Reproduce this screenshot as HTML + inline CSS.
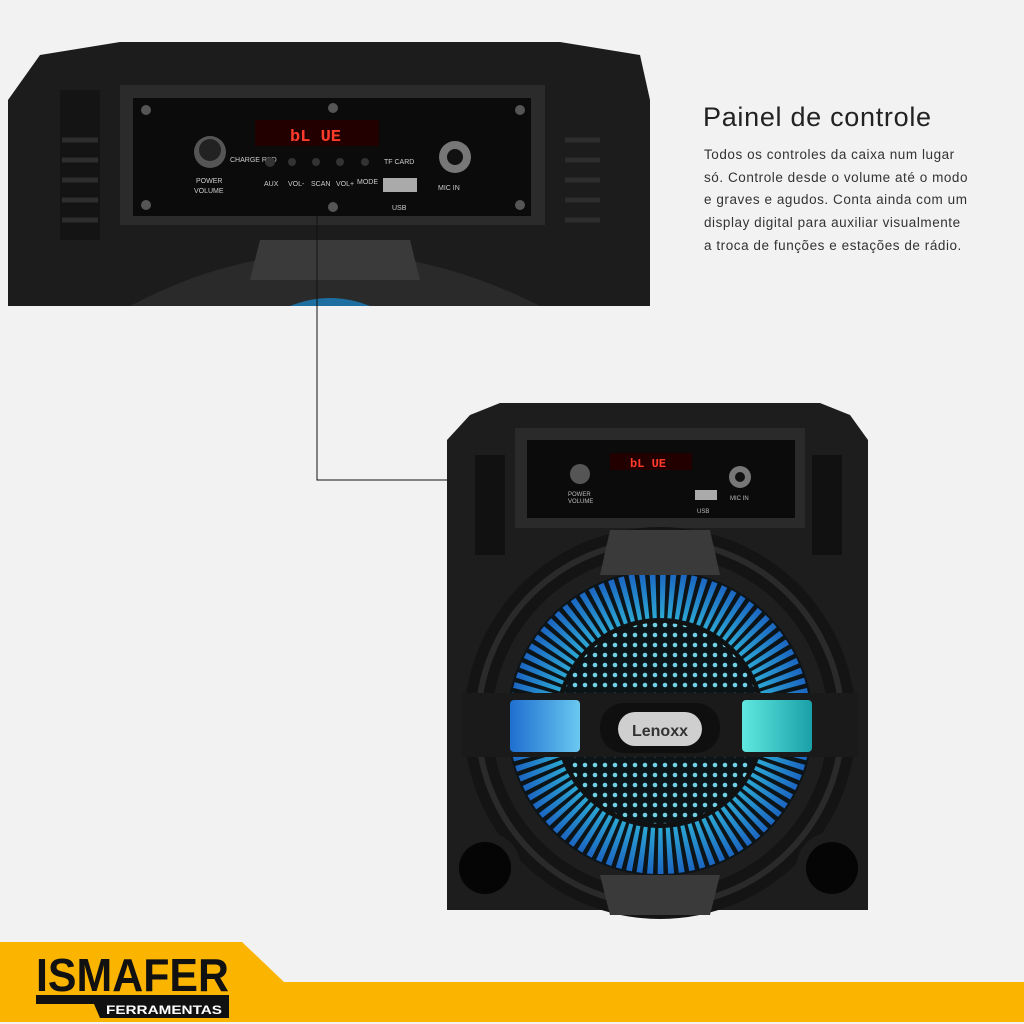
<!DOCTYPE html>
<html><head><style>
html,body{margin:0;padding:0;background:#f2f2f2;}
body{width:1024px;height:1024px;position:relative;overflow:hidden;font-family:"Liberation Sans",sans-serif;}
.t{position:absolute;left:703px;top:102px;font-size:27px;color:#222;letter-spacing:0.7px;}
.p{position:absolute;left:704px;top:144px;font-size:13.5px;line-height:22.7px;color:#333;width:330px;white-space:nowrap;letter-spacing:0.55px;}
</style></head><body>
<svg width="1024" height="1024" style="position:absolute;left:0;top:0">
<defs>
<radialGradient id="bl2" gradientUnits="userSpaceOnUse" cx="660" cy="723" r="155">
<stop offset="0" stop-color="#8fdce8"/><stop offset="0.6" stop-color="#30b8d8"/><stop offset="1" stop-color="#1a60c0"/></radialGradient>
<pattern id="dots" width="10" height="10" patternUnits="userSpaceOnUse"><rect width="10" height="10" fill="#0d1418"/><circle cx="5" cy="5" r="2.3" fill="#6fd0e6"/></pattern>
<linearGradient id="lb" x1="0" x2="1"><stop offset="0" stop-color="#1f6fd0"/><stop offset="1" stop-color="#6ac8f0"/></linearGradient>
<linearGradient id="rb" x1="0" x2="1"><stop offset="0" stop-color="#5fe8e0"/><stop offset="1" stop-color="#1aa0a8"/></linearGradient>
</defs>
<g>
<path d="M8,100 L40,55 L120,42 L560,42 L640,55 L650,100 L650,306 L8,306 Z" fill="#1c1c1d"/>
<rect x="60" y="90" width="40" height="150" fill="#141414"/>
<g stroke="#2d2d2e" stroke-width="5">
<line x1="62" y1="140" x2="98" y2="140"/><line x1="62" y1="160" x2="98" y2="160"/><line x1="62" y1="180" x2="98" y2="180"/><line x1="62" y1="200" x2="98" y2="200"/><line x1="62" y1="220" x2="98" y2="220"/>
<line x1="565" y1="140" x2="600" y2="140"/><line x1="565" y1="160" x2="600" y2="160"/><line x1="565" y1="180" x2="600" y2="180"/><line x1="565" y1="200" x2="600" y2="200"/><line x1="565" y1="220" x2="600" y2="220"/></g>
<rect x="120" y="85" width="425" height="140" fill="#2b2b2c"/>
<rect x="133" y="98" width="398" height="118" fill="#0b0b0b"/>
<rect x="255" y="120" width="124" height="26" fill="#200" />
<text x="290" y="141" font-size="17" font-weight="bold" fill="#ff3b2b" font-family="Liberation Mono">bL UE</text>
<circle cx="210" cy="152" r="16" fill="#555"/><circle cx="210" cy="150" r="11" fill="#222"/>
<circle cx="455" cy="157" r="16" fill="#777"/><circle cx="455" cy="157" r="8" fill="#111"/>
<rect x="383" y="178" width="34" height="14" fill="#aaa"/>
<g fill="#ccc" font-size="7"><text x="196" y="183">POWER</text><text x="194" y="193">VOLUME</text><text x="230" y="162">CHARGE RED</text><text x="264" y="186">AUX</text><text x="288" y="186">VOL-</text><text x="311" y="186">SCAN</text><text x="336" y="186">VOL+</text><text x="357" y="184">MODE</text><text x="384" y="164">TF CARD</text><text x="392" y="210">USB</text><text x="438" y="190">MIC IN</text></g>
<g fill="#333"><circle cx="270" cy="162" r="5"/><circle cx="292" cy="162" r="4"/><circle cx="316" cy="162" r="4"/><circle cx="340" cy="162" r="4"/><circle cx="365" cy="162" r="4"/></g>
<g fill="#555"><circle cx="146" cy="110" r="5"/><circle cx="520" cy="110" r="5"/><circle cx="146" cy="205" r="5"/><circle cx="520" cy="205" r="5"/><circle cx="333" cy="108" r="5"/><circle cx="333" cy="207" r="5"/></g>
<path d="M130,306 Q330,200 540,306 Z" fill="#2a2a2b"/>
<path d="M260,240 L410,240 L420,280 L250,280 Z" fill="#3a3a3b"/>
<path d="M290,306 Q330,290 370,306 Z" fill="#1c6fa0"/>
</g>
<polyline points="317,215 317,480 590,480" fill="none" stroke="#111" stroke-width="1"/>
<path d="M447,440 L470,415 L500,403 L820,403 L850,415 L868,440 L868,910 L447,910 Z" fill="#1d1d1e"/>
<rect x="475" y="455" width="30" height="100" fill="#111"/><rect x="812" y="455" width="30" height="100" fill="#111"/>
<rect x="515" y="428" width="290" height="100" fill="#2a2a2b"/>
<rect x="527" y="440" width="268" height="78" fill="#0b0b0b"/>
<rect x="610" y="453" width="82" height="17" fill="#200"/>
<text x="630" y="467" font-size="12" font-weight="bold" fill="#ff3b2b" font-family="Liberation Mono">bL UE</text>
<circle cx="580" cy="474" r="10" fill="#555"/><circle cx="740" cy="477" r="11" fill="#777"/><circle cx="740" cy="477" r="5" fill="#111"/>
<rect x="695" y="490" width="22" height="10" fill="#aaa"/>
<g fill="#bbb" font-size="6"><text x="568" y="496">POWER</text><text x="568" y="503">VOLUME</text><text x="730" y="500">MIC IN</text><text x="697" y="513">USB</text></g>
<circle cx="660" cy="723" r="196" fill="#141415"/>
<circle cx="660" cy="723" r="182" fill="none" stroke="#2a2a2b" stroke-width="6"/>
<circle cx="660" cy="723" r="168" fill="#1e1e1f"/>
<circle cx="660" cy="723" r="153" fill="#0d1418"/>
<circle cx="660" cy="723" r="128" fill="none" stroke="url(#bl2)" stroke-width="46" stroke-dasharray="5 4"/>
<circle cx="660" cy="723" r="102" fill="url(#dots)"/>
<circle cx="660" cy="723" r="102" fill="none" stroke="#111" stroke-width="3"/>
<path d="M610,530 L710,530 L720,575 L600,575 Z" fill="#3a3a3b"/>
<path d="M610,915 L710,915 L720,875 L600,875 Z" fill="#3a3a3b"/>
<rect x="462" y="693" width="396" height="64" fill="#1a1a1b"/>
<rect x="510" y="700" width="70" height="52" rx="4" fill="url(#lb)"/>
<rect x="742" y="700" width="70" height="52" rx="4" fill="url(#rb)"/>
<rect x="600" y="703" width="120" height="50" rx="24" fill="#0f0f0f"/>
<rect x="618" y="712" width="84" height="34" rx="17" fill="#cfcfcf"/>
<text x="660" y="736" font-size="16" font-weight="bold" fill="#333" text-anchor="middle">Lenoxx</text>
<circle cx="485" cy="868" r="36" fill="#1d1d1e"/><circle cx="485" cy="868" r="26" fill="#050505"/>
<circle cx="832" cy="868" r="36" fill="#1d1d1e"/><circle cx="832" cy="868" r="26" fill="#050505"/>
<path d="M0,942 L242,942 L284,982 L1024,982 L1024,1022 L0,1022 Z" fill="#fbb400"/>
<text x="36" y="991" font-size="46" font-weight="bold" fill="#111" textLength="193" lengthAdjust="spacingAndGlyphs">ISMAFER</text>
<path d="M36,995 L229,995 L229,1018 L100,1018 L94,1004 L36,1004 Z" fill="#111"/>
<text x="106" y="1014" font-size="12" font-weight="bold" fill="#fff" textLength="116" lengthAdjust="spacingAndGlyphs">FERRAMENTAS</text>
</svg>
<div class="t">Painel de controle</div>
<div class="p">Todos os controles da caixa num lugar<br>só. Controle desde o volume até o modo<br>e graves e agudos. Conta ainda com um<br>display digital para auxiliar visualmente<br>a troca de funções e estações de rádio.</div>
</body></html>
